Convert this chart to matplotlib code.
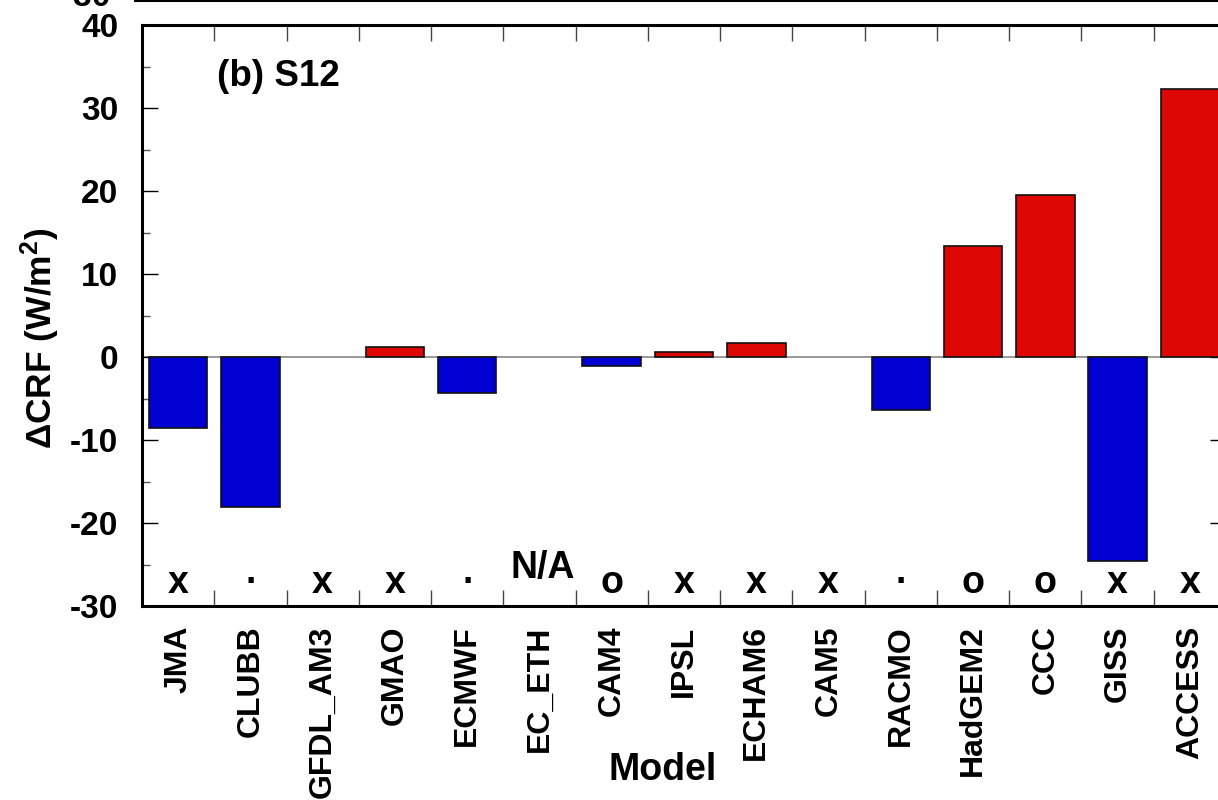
'''
    Cloud radiative forcing change per model, panel (b) S12
'''

import matplotlib
matplotlib.use('Agg')
import matplotlib.pyplot as plt
import numpy as np
from matplotlib.ticker import MultipleLocator, FixedLocator

models = ['JMA', 'CLUBB', 'GFDL_AM3', 'GMAO', 'ECMWF', 'EC_ETH', 'CAM4', 'IPSL',
          'ECHAM6', 'CAM5', 'RACMO', 'HadGEM2', 'CCC', 'GISS', 'ACCESS']
# nan = no bar drawn
dcrf = [-8.6, -18.1, np.nan, 1.2, -4.3, np.nan, -1.1, 0.6,
        1.7, np.nan, -6.4, 13.4, 19.5, -24.6, 32.3]
marks = ['x', '.', 'x', 'x', '.', '', 'o', 'x', 'x', 'x', '.', 'o', 'o', 'x', 'x']
na_model = 'EC_ETH'

plt.rcParams['font.family'] = ['Liberation Sans', 'DejaVu Sans']
plt.rcParams['font.weight'] = 'bold'
plt.rcParams['axes.unicode_minus'] = False
plt.rcParams['mathtext.fontset'] = 'custom'
plt.rcParams['mathtext.rm'] = 'Liberation Sans:bold'
plt.rcParams['mathtext.default'] = 'rm'

fig = plt.figure(figsize=(12.18, 8.0), dpi=100)

# bottom edge of the panel above, mostly cut off
ax_up = fig.add_axes([135 / 1218, 1.0, 1.0, 0.5])
ax_up.set_ylim(-31.0, 40)
ax_up.set_yticks([-30])
ax_up.set_xticks([])
for s in ['top', 'right', 'left']:
    ax_up.spines[s].set_visible(False)
ax_up.spines['bottom'].set_linewidth(2.2)
ax_up.tick_params(axis='y', length=0, labelsize=24, pad=17)

ax = fig.add_axes([142 / 1218, 194 / 800, 1084 / 1218, 581 / 800])
x = np.arange(len(models))
vals = np.array(dcrf, dtype=float)
colors = ['#dd0804' if v > 0 else '#0000d2' for v in np.nan_to_num(vals)]
ax.axhline(0, color='#888888', lw=1.2, zorder=1)
ax.bar(x, vals, width=0.81, color=colors, edgecolor='#111111',
       linewidth=1.2, zorder=2)

ax.set_xlim(-0.5, len(models) - 0.5)
ax.set_ylim(-30, 40)
ax.yaxis.set_major_locator(MultipleLocator(10))
ax.yaxis.set_minor_locator(MultipleLocator(5))
ax.set_xticks(x)
ax.set_xticklabels(models, rotation=90, va='top', ha='center')
ax.xaxis.set_minor_locator(FixedLocator(x[:-1] + 0.5))

ax.tick_params(axis='x', which='major', length=0, labelsize=23, pad=14)
ax.tick_params(axis='x', which='minor', direction='in', length=11.5, width=1,
               color='#444444', top=True, bottom=True)
ax.tick_params(axis='y', which='major', direction='in', length=11.5, width=1,
               labelsize=24, pad=17, left=True, right=True)
ax.tick_params(axis='y', which='minor', direction='in', length=6, width=1,
               color='#555555', left=True, right=True)
for s in ax.spines.values():
    s.set_linewidth(2.2)

# marker symbols along the bottom
for i, m in enumerate(marks):
    if m:
        yv = -27.2 if m != '.' else -26.0
        ax.text(i, yv, m, ha='center', va='center', fontsize=27, fontweight='bold')
ax.text(models.index(na_model) + 0.05, -25.4, 'N/A', ha='center', va='center',
        fontsize=27, fontweight='bold')

ax.text(0.069, 0.912, '(b) S12', transform=ax.transAxes, ha='left', va='center',
        fontsize=26.5, fontweight='bold')

ax.set_ylabel(r'$\Delta$CRF (W/m$^2$)', fontsize=25.5, fontweight='bold')
ax.yaxis.set_label_coords(-0.074, 0.461)
ax.set_xlabel('Model', fontsize=27, fontweight='bold')
ax.xaxis.set_label_coords(0.48, -0.251)

fig.savefig('out.png', dpi=100)
